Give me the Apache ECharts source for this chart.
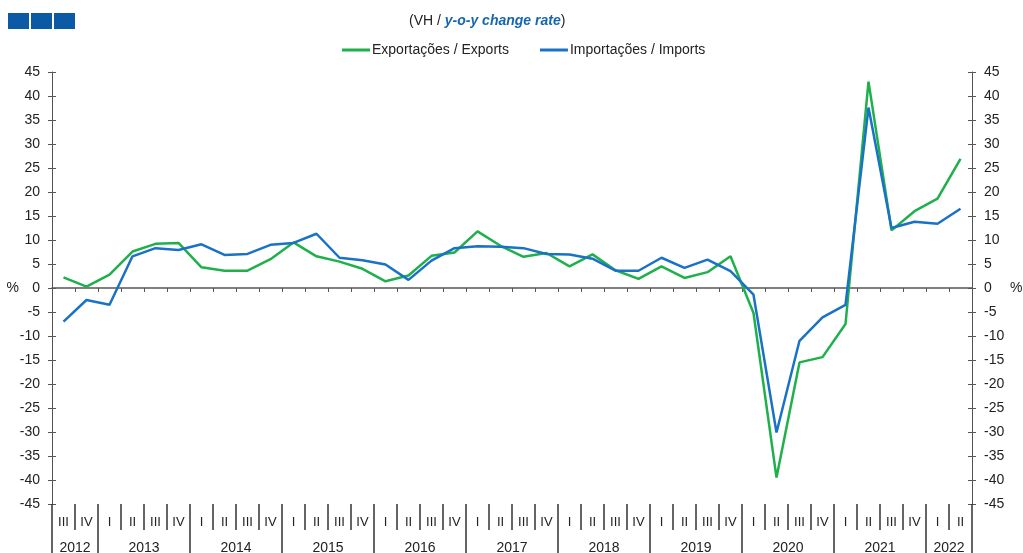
<!DOCTYPE html>
<html>
<head>
<meta charset="utf-8">
<script src="https://cdn.jsdelivr.net/npm/echarts@6/dist/echarts.min.js"></script>
<style>
  html, body { margin: 0; padding: 0; background: #fff; }
  #chart { width: 1023px; height: 553px; }
</style>
</head>
<body>
<div id="chart"></div>
<script>
// years and how many quarters of each are shown (2012 starts at III, 2022 ends at II)
var years = ['2012', '2013', '2014', '2015', '2016', '2017', '2018', '2019', '2020', '2021', '2022'];
var yearQuarters = [2, 4, 4, 4, 4, 4, 4, 4, 4, 4, 2];
var firstQuarter = 3;
var romans = ['I', 'II', 'III', 'IV'];

// y-o-y change rate, %
var exportsData = [2.2, 0.3, 2.8, 7.6, 9.2, 9.4, 4.3, 3.6, 3.6, 6.0,
                   9.5, 6.6, 5.5, 4.0, 1.4, 2.6, 6.7, 7.4, 11.8, 8.8,
                   6.5, 7.3, 4.5, 7.0, 3.7, 1.9, 4.5, 2.1, 3.3, 6.6,
                   -5.2, -39.5, -15.5, -14.4, -7.5, 43.0, 12.0, 16.0, 18.6, 26.9];
var importsData = [-7.0, -2.5, -3.5, 6.6, 8.3, 7.9, 9.1, 6.9, 7.1, 9.0,
                   9.4, 11.3, 6.3, 5.8, 4.9, 1.7, 5.7, 8.3, 8.7, 8.6,
                   8.3, 7.1, 7.0, 6.1, 3.6, 3.6, 6.3, 4.2, 5.9, 3.5,
                   -1.4, -30.1, -11.0, -6.1, -3.5, 37.6, 12.5, 13.8, 13.4, 16.5];

var quarters = [];
var yearStarts = [];
var yearCenters = {};
var q = firstQuarter - 1;
for (var y = 0; y < years.length; y++) {
    yearStarts.push(quarters.length);
    yearCenters[quarters.length + yearQuarters[y] / 2] = years[y];
    for (var k = 0; k < yearQuarters[y]; k++) {
        quarters.push(romans[q % 4]);
        q++;
    }
}

var txt = '#222';
var axisCol = '#555';
var font = 'Liberation Sans, Arial, sans-serif';

function yAx(pos, showLabels, inside, gap) {
    return {
        type: 'value', position: pos, min: -45, max: 45, interval: 5,
        name: showLabels ? '%' : '', nameLocation: 'middle', nameRotate: 0, nameGap: gap || 38,
        nameMoveOverlap: false,
        nameTextStyle: { color: txt, fontSize: 14, fontFamily: font },
        axisLine: { show: showLabels, onZero: false, lineStyle: { color: axisCol, width: 1 } },
        axisTick: { show: true, inside: inside, length: 4, lineStyle: { color: axisCol } },
        axisLabel: { show: showLabels, margin: 12, color: txt, fontSize: 14, fontFamily: font },
        splitLine: { show: false }
    };
}

var chart = echarts.init(document.getElementById('chart'));
chart.setOption({
    backgroundColor: '#fff',
    animation: false,
    title: {
        text: '(VH / {b|y-o-y change rate})',
        left: 404, top: 9,
        textStyle: {
            color: txt, fontSize: 14, fontWeight: 'normal', fontFamily: font,
            rich: { b: { color: '#1666b0', fontSize: 14, fontWeight: 'bold', fontStyle: 'italic', fontFamily: font } }
        }
    },
    legend: {
        top: 38, left: 337,
        icon: 'rect', itemWidth: 28, itemHeight: 3, itemGap: 31,
        textStyle: { color: txt, fontSize: 14, fontFamily: font, padding: [0, 0, 0, -3] },
        data: ['Exportações / Exports', 'Importações / Imports']
    },
    graphic: [
        { type: 'rect', left: 8, top: 13, shape: { width: 21, height: 16 }, style: { fill: '#0b5aa6' } },
        { type: 'rect', left: 31, top: 13, shape: { width: 21, height: 16 }, style: { fill: '#0b5aa6' } },
        { type: 'rect', left: 54, top: 13, shape: { width: 21, height: 16 }, style: { fill: '#0b5aa6' } }
    ],
    grid: { left: 52, right: 51, top: 72, bottom: 49, outerBoundsMode: 'none' },
    xAxis: [
        {   // axis on the zero line
            type: 'category', data: quarters, position: 'bottom',
            axisLine: { onZero: true, lineStyle: { color: axisCol, width: 1.5 } },
            axisTick: { show: true, interval: 0, length: 4, lineStyle: { color: axisCol } },
            axisLabel: { show: false }
        },
        {   // quarter labels
            type: 'category', data: quarters, position: 'bottom',
            axisLine: { show: false, onZero: false },
            axisTick: { show: true, interval: 0, length: 26, lineStyle: { color: '#333', width: 1.5 } },
            axisLabel: { show: true, interval: 0, margin: 12, color: txt, fontSize: 13, fontFamily: font }
        },
        {   // year separators
            type: 'category', data: quarters, position: 'bottom',
            axisLine: { show: false, onZero: false },
            axisTick: {
                show: true, length: 50, lineStyle: { color: '#333', width: 1.5 },
                interval: function (i) { return yearStarts.indexOf(i) >= 0; }
            },
            axisLabel: { show: false }
        },
        {   // year labels
            type: 'value', position: 'bottom', min: 0, max: quarters.length, interval: 1,
            axisLine: { show: false, onZero: false },
            axisTick: { show: false },
            splitLine: { show: false },
            axisLabel: {
                show: true, margin: 37, color: txt, fontSize: 14, fontFamily: font,
                formatter: function (v) { return yearCenters[v] || ''; }
            }
        }
    ],
    yAxis: [
        yAx('left', true, false, 33),
        yAx('right', true, false, 38),
        yAx('left', false, true),
        yAx('right', false, true)
    ],
    series: [
        {
            name: 'Exportações / Exports', type: 'line', data: exportsData,
            xAxisIndex: 0, yAxisIndex: 0, symbol: 'none',
            lineStyle: { color: '#1fb04c', width: 2.5 }, itemStyle: { color: '#1fb04c' }
        },
        {
            name: 'Importações / Imports', type: 'line', data: importsData,
            xAxisIndex: 0, yAxisIndex: 0, symbol: 'none',
            lineStyle: { color: '#1a72c6', width: 2.5 }, itemStyle: { color: '#1a72c6' }
        }
    ]
});
</script>
</body>
</html>
